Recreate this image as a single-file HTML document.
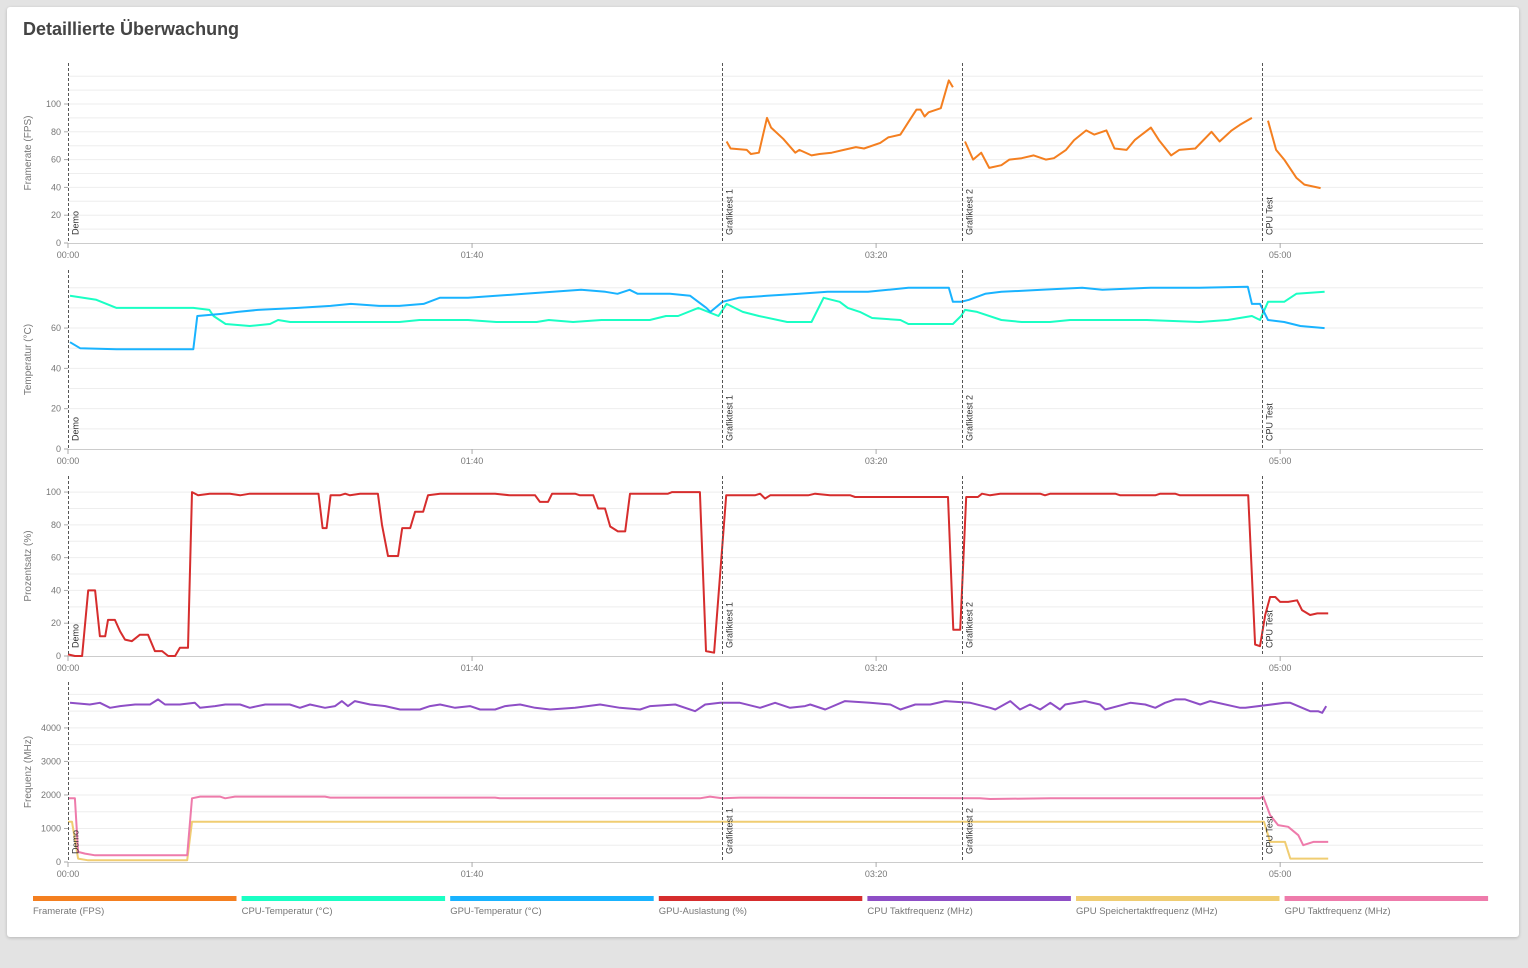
<!DOCTYPE html>
<html><head><meta charset="utf-8"><style>
body{margin:0;width:1528px;height:968px;background:#e3e3e3;font-family:"Liberation Sans",sans-serif;overflow:hidden}
#card{position:absolute;left:7px;top:7px;width:1512px;height:930px;background:#fff;border-radius:3px;box-shadow:0 1px 3px rgba(0,0,0,.2)}
#title{position:absolute;left:16px;top:12px;font-size:18px;font-weight:600;color:#444}
svg{position:absolute;left:0;top:0}
</style></head><body>
<div id="card">
<div id="title">Detaillierte Überwachung</div>
</div>
<svg id="chart" width="1528" height="968"></svg>
<script>
const fpsTimes=[163,164,168,169,171,173,174,177,180,181,184,186,189,192,195,197,201,203,206,208,210,211,212,213,216,218,219,null,222,224,226,228,231,233,236,239,242,244,247,249,252,254,257,259,262,264,268,270,273,275,279,283,285,288,290,293,null,297,299,301,304,306,310];
const fpsValues=[73,68,67,64,65,90,83,75,65,67,63,64,65,67,69,68,72,76,78,87,96,96,91,94,97,117,112,null,73,60,65,54,56,60,61,63,60,61,67,74,81,78,81,68,67,74,83,74,63,67,68,80,73,81,85,90,null,88,67,60,47,42,39.5];
const cpuTempTimes=[0.5,7,12,31,35,36,39,45,50,52,55,67,82,87,99,106,116,119,125,132,144,148,151,156,161,163,167,171,178,184,187,191,193,196,199,206,208,219,221,222,225,231,236,243,248,267,280,287,293,295,297,301,304,311];
const cpuTempValues=[76,74,70,70,69,66,62,61,62,64,63,63,63,64,64,63,63,64,63,64,64,66,66,70,66,72,68,66,63,63,75,73,70,68,65,64,62,62,66,69,68,64,63,63,64,64,63,64,66,64,73,73,77,78];
const gpuTempTimes=[0.5,3,12,31,32,38,42,47,57,65,70,77,82,88,92,99,106,113,120,127,133,136,139,141,149,154,158,159,162,166,173,181,188,198,203,208,218,219,221,223,227,231,241,251,256,268,280,292,293,295,297,301,305,311];
const gpuTempValues=[53,50,49.5,49.5,66,67,68,69,70,71,72,71,71,72,75,75,76,77,78,79,78,77,79,77,77,76,70,68,73,75,76,77,78,78,79,80,80,73,73,74,77,78,79,80,79,80,80,80.5,72,72,64,63,61,60];
const loadTimes=[0,1.7,3.5,5,6.7,7.9,9.2,9.9,11.6,12.9,14.1,15.8,17.8,19.8,21.5,23.3,24.8,26.5,27.7,29.7,30.7,32.2,35.1,40.1,42.6,45,62,63,64,65,67.3,68.6,69.8,72.3,76.7,77.7,79.2,81.7,82.7,84.7,85.9,87.9,89.1,92.1,105.7,109.4,115.6,116.8,118.8,119.8,125.5,126.7,130,131.2,132.9,134.2,136.1,137.9,139.1,148.5,149.5,156.4,157.9,159.9,162.9,170,171.3,172.5,173.8,183.2,184.9,188.6,193.6,194.8,217.8,219.1,220.8,222.3,225.2,226.2,228.2,230.7,240.6,241.8,243.1,259.2,260.4,269.1,270.3,274,275.2,292.1,293.8,295,296.3,297.5,298.8,300,302,304.2,305.4,307.4,309.2,311.9];
const loadValues=[1,0,0,40,40,12,12,22,22,15,10,9,13,13,3,3,0,0,5,5,100,98,99,99,98,99,99,78,78,98,98,99,98,99,99,80,61,61,78,78,88,88,98,99,99,98,98,94,94,99,99,98,98,90,90,79,76,76,99,99,100,100,3,2,98,98,99,96,98,98,99,98,98,97,97,16,16,97,97,99,98,99,99,98,99,99,98,98,99,99,98,98,7,6,25,36,36,33,33,34,28,25,26,26];
const cpuClockTimes=[0.5,5.4,7.9,10.4,12.9,16.6,20.3,22.3,24,27.7,31.4,32.7,36.4,38.9,42.6,45,48.8,54.9,57.4,59.9,63.6,66.1,67.8,69.3,71,74.8,78.5,82.2,87.1,89.6,92.1,95.8,99.5,102,105.7,108.2,111.9,115.6,119.3,125.5,131.7,136.6,141.6,144.1,150.3,155.2,157.7,161.4,166.3,171.3,175,178.7,182.4,183.7,187.4,192.3,198.5,203.5,206,209.7,213.4,217.1,223.3,228.2,229.5,233.2,235.6,238.1,240.6,243.1,245.5,246.8,251.7,255.4,256.7,262.9,266.6,269.1,271.5,274,276.5,280.2,282.7,290.1,291.4,301.2,302.5,307.4,309.4,310.4,311.4];
const cpuClockValues=[4750,4700,4750,4600,4650,4700,4700,4850,4700,4700,4750,4600,4650,4700,4700,4600,4700,4700,4600,4700,4600,4650,4800,4650,4800,4700,4650,4550,4550,4650,4700,4600,4650,4550,4550,4650,4700,4600,4550,4600,4700,4600,4550,4650,4700,4500,4700,4750,4750,4600,4750,4600,4650,4700,4550,4800,4750,4700,4550,4700,4700,4800,4750,4600,4550,4800,4550,4700,4550,4750,4550,4700,4800,4700,4550,4750,4700,4600,4750,4850,4850,4700,4800,4600,4600,4750,4750,4500,4500,4450,4650,4650];
const memClockTimes=[0,1,2.5,5,29.5,30.7,295,296,297.5,301.2,302.5,311.9];
const memClockValues=[1200,1200,100,50,50,1200,1200,1200,600,600,100,100];
const gpuClockTimes=[0,1.7,2.5,4.2,6.7,29.5,30.7,32.7,37.6,38.9,41.3,63.6,64.9,105.7,106.9,156.4,158.9,161.9,166.3,225.7,228.2,243.1,295,295.8,297.5,299.5,302,304.5,305.7,308.2,311.9];
const gpuClockValues=[1900,1900,300,250,200,200,1900,1950,1950,1900,1950,1950,1920,1920,1900,1900,1950,1900,1920,1900,1880,1900,1900,1950,1400,1100,1050,800,500,600,600];
const markerTimes=[0,161.9,221.3,295.5];
const markerLabels=["Demo","Grafiktest 1","Grafiktest 2","CPU Test"];
const xTickTimes=[0,100,200,300];
const xTickLabels=["00:00","01:40","03:20","05:00"];
const legendLabels=["Framerate (FPS)","CPU-Temperatur (°C)","GPU-Temperatur (°C)","GPU-Auslastung (%)","CPU Taktfrequenz (MHz)","GPU Speichertaktfrequenz (MHz)","GPU Taktfrequenz (MHz)"];
const legendColors=["#f47f20","#1affc4","#19b3ff","#d62d2d","#8e4ec6","#f0cd72","#ee7bab"];

const NS="http://www.w3.org/2000/svg";
const svg=document.getElementById('chart');
const X0=68,X1=1483,TMAX=350.2;
const xs=t=>X0+(t/TMAX)*(X1-X0);
function el(tag,attrs,parent){const e=document.createElementNS(NS,tag);for(const k in attrs)e.setAttribute(k,attrs[k]);(parent||svg).appendChild(e);return e;}
const panels=[
 {top:63,bottom:243,max:129.5,ticks:[0,20,40,60,80,100],grid:10,title:"Framerate (FPS)",name:"fps-panel",series:[[fpsTimes,fpsValues,0]]},
 {top:270,bottom:449,max:88.8,ticks:[0,20,40,60],grid:10,title:"Temperatur (°C)",name:"temperature-panel",series:[[cpuTempTimes,cpuTempValues,1],[gpuTempTimes,gpuTempValues,2]]},
 {top:476,bottom:656,max:109.8,ticks:[0,20,40,60,80,100],grid:10,title:"Prozentsatz (%)",name:"gpu-load-panel",series:[[loadTimes,loadValues,3]]},
 {top:682,bottom:862,max:5370,ticks:[0,1000,2000,3000,4000],grid:500,title:"Frequenz (MHz)",name:"frequency-panel",series:[[cpuClockTimes,cpuClockValues,4],[memClockTimes,memClockValues,5],[gpuClockTimes,gpuClockValues,6]]}
];
const seriesNames=["fps-line","cpu-temp-line","gpu-temp-line","gpu-load-line","cpu-clock-line","gpu-mem-clock-line","gpu-clock-line"];
panels.forEach(p=>{
 const g=el('g',{});
 
 
 const ys=v=>p.bottom-(v/p.max)*(p.bottom-p.top);
 for(let v=p.grid;v<=p.max;v+=p.grid){const l=el('line',{x1:X0,x2:X1,y1:ys(v),y2:ys(v),stroke:'#eeeeee','stroke-width':1},g);}
 el('line',{x1:X0,x2:X1,y1:p.bottom+.5,y2:p.bottom+.5,stroke:'#ccc'},g);
 p.ticks.forEach(v=>{
  el('line',{x1:X0-4,x2:X0,y1:ys(v),y2:ys(v),stroke:'#aaa'},g);
  const t=el('text',{x:X0-7,y:ys(v)+3,'font-size':9,fill:'#777','text-anchor':'end'},g);t.textContent=v;
  
 });
 xTickTimes.forEach((tt,i)=>{
  el('line',{x1:xs(tt),x2:xs(tt),y1:p.bottom,y2:p.bottom+5,stroke:'#aaa'},g);
  const t=el('text',{x:xs(tt),y:p.bottom+15,'font-size':9,fill:'#777','text-anchor':'middle'},g);t.textContent=xTickLabels[i];
  
 });
 const cy=(p.top+p.bottom)/2;
 const yt=el('text',{x:31,y:cy,'font-size':10,fill:'#777','text-anchor':'middle',transform:`rotate(-90 31 ${cy})`},g);yt.textContent=p.title;
 
 p.series.forEach(([ts,vs,ci])=>{
  let d='',pen=false;
  for(let i=0;i<ts.length;i++){if(ts[i]===null||vs[i]===null){pen=false;continue;}d+=(pen?'L':'M')+xs(ts[i]).toFixed(1)+','+ys(vs[i]).toFixed(1);pen=true;}
  const path=el('path',{d:d,fill:'none',stroke:legendColors[ci],'stroke-width':2,'stroke-linejoin':'round'},g);
  
 });
 markerTimes.forEach((mt,i)=>{
  const x=Math.round(xs(mt))+0.5;
  const l=el('line',{x1:x,x2:x,y1:p.top,y2:p.bottom,stroke:'#555','stroke-dasharray':'3,2','stroke-width':1},g);
  
  const tx=x+10,ty=p.bottom-8;
  const t=el('text',{x:tx,y:ty,'font-size':9,fill:'#333',transform:`rotate(-90 ${tx} ${ty})`},g);t.textContent=markerLabels[i];
  
 });
});
const LX=33,LW=203.5,LG=5.1;
legendLabels.forEach((lab,i)=>{
 const g=el('g',{});
 
 const x=LX+i*(LW+LG);
 el('rect',{x:x,y:896,width:LW,height:5,fill:legendColors[i]},g);
 const t=el('text',{x:x,y:914,'font-size':9.5,fill:'#777'},g);t.textContent=lab;
});
</script>
</body></html>
